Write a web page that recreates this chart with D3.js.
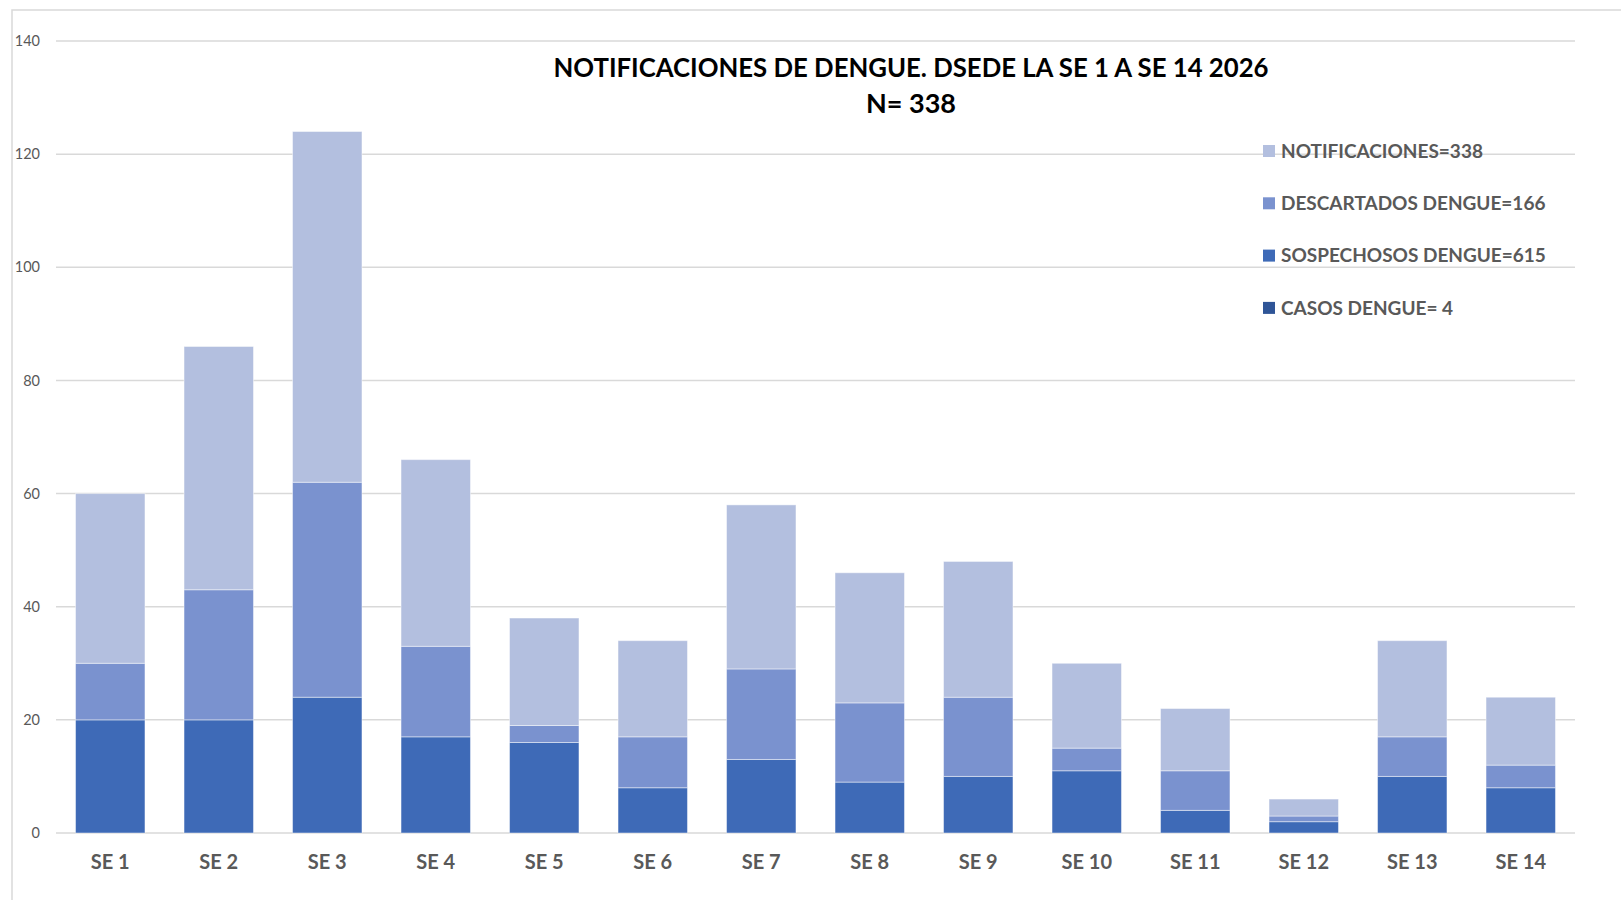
<!DOCTYPE html>
<html>
<head>
<meta charset="utf-8">
<script src="https://cdn.jsdelivr.net/npm/d3@7"></script>
<style>
  body { margin: 0; background: #fff; }
  svg text { font-family: Lato, "Open Sans", sans-serif; }
</style>
</head>
<body>
<svg id="chart" width="1621" height="900"></svg>
<script>
// data
let semanas = ["SE 1", "SE 2", "SE 3", "SE 4", "SE 5", "SE 6", "SE 7", "SE 8", "SE 9", "SE 10", "SE 11", "SE 12", "SE 13", "SE 14"];
let casos = [0, 0, 0, 0, 0, 0, 0, 0, 0, 0, 0, 0, 0, 0];
let sospechosos = [20, 20, 24, 17, 16, 8, 13, 9, 10, 11, 4, 2, 10, 8];
let descartados = [10, 23, 38, 16, 3, 9, 16, 14, 14, 4, 7, 1, 7, 4];
let notificaciones = [30, 43, 62, 33, 19, 17, 29, 23, 24, 15, 11, 3, 17, 12];
let yTicks = [0, 20, 40, 60, 80, 100, 120, 140];

let seriesKeys = ["casos", "sospechosos", "descartados", "notificaciones"];
let seriesLabels = {
    casos: "CASOS DENGUE= 4",
    sospechosos: "SOSPECHOSOS DENGUE=615",
    descartados: "DESCARTADOS DENGUE=166",
    notificaciones: "NOTIFICACIONES=338"
};
let seriesColors = {
    casos: "#2f5597",
    sospechosos: "#3e6ab7",
    descartados: "#7a92cf",
    notificaciones: "#b3bfdf"
};

let rows = semanas.map((s, i) => ({
    semana: s,
    casos: casos[i],
    sospechosos: sospechosos[i],
    descartados: descartados[i],
    notificaciones: notificaciones[i]
}));

let svg = d3.select("#chart");

// outer chart frame
svg.append("rect")
    .attr("x", 12).attr("y", 10)
    .attr("width", 1640).attr("height", 920)
    .attr("fill", "none")
    .attr("stroke", "#d9d9d9")
    .attr("stroke-width", 1.5);

let plot = { left: 56, right: 1575, top: 41, bottom: 833 };

let x = d3.scaleBand()
    .domain(semanas)
    .range([plot.left, plot.right])
    .paddingInner(0.36)
    .paddingOuter(0.18);

let y = d3.scaleLinear()
    .domain([0, 140])
    .range([plot.bottom, plot.top]);

// gridlines
svg.append("g")
    .selectAll("line")
    .data(yTicks)
    .join("line")
    .attr("x1", plot.left).attr("x2", plot.right)
    .attr("y1", d => y(d)).attr("y2", d => y(d))
    .attr("stroke", "#d9d9d9")
    .attr("stroke-width", 1.5);

// y axis labels
let yAxis = svg.append("g")
    .attr("transform", `translate(${plot.left},0)`)
    .call(d3.axisLeft(y).tickValues(yTicks).tickSize(0).tickPadding(16));
yAxis.select(".domain").remove();
yAxis.selectAll("text")
    .attr("fill", "#595959")
    .style("font-size", "14.5px");

// stacked bars
let stacked = d3.stack().keys(seriesKeys)(rows);

svg.append("g")
    .selectAll("g")
    .data(stacked)
    .join("g")
    .attr("fill", d => seriesColors[d.key])
    .selectAll("rect")
    .data(d => d.filter(p => p[1] > p[0]))
    .join("rect")
    .attr("x", d => x(d.data.semana))
    .attr("width", x.bandwidth())
    .attr("y", d => y(d[1]))
    .attr("height", d => y(d[0]) - y(d[1]))
    .attr("stroke", "#ffffff")
    .attr("stroke-opacity", 0.45)
    .attr("stroke-width", 1);

// x axis labels
let xAxis = svg.append("g")
    .attr("transform", `translate(0,${plot.bottom})`)
    .call(d3.axisBottom(x).tickSize(0).tickPadding(22));
xAxis.select(".domain").remove();
xAxis.selectAll("text")
    .attr("fill", "#595959")
    .style("font-size", "20px")
    .style("font-weight", "bold");

// title
svg.append("text")
    .attr("x", 911).attr("y", 77)
    .attr("text-anchor", "middle")
    .attr("textLength", 715)
    .attr("lengthAdjust", "spacingAndGlyphs")
    .style("font-size", "27px")
    .style("font-weight", "bold")
    .attr("fill", "#000")
    .text("NOTIFICACIONES  DE DENGUE. DSEDE LA SE 1 A SE 14 2026");

svg.append("text")
    .attr("x", 911).attr("y", 113)
    .attr("text-anchor", "middle")
    .style("font-size", "27px")
    .style("font-weight", "bold")
    .attr("fill", "#000")
    .text("N= 338");

// legend (top series first, like the reference)
let legend = svg.append("g")
    .selectAll("g")
    .data(seriesKeys.slice().reverse())
    .join("g")
    .attr("transform", (d, i) => `translate(1263,${151 + i * 52.3})`);

legend.append("rect")
    .attr("x", 0).attr("y", -6)
    .attr("width", 12).attr("height", 12)
    .attr("fill", d => seriesColors[d]);

legend.append("text")
    .attr("x", 18).attr("y", 0)
    .attr("dy", "0.35em")
    .attr("fill", "#595959")
    .style("font-size", "19px")
    .style("font-weight", "bold")
    .text(d => seriesLabels[d]);
</script>
</body>
</html>
